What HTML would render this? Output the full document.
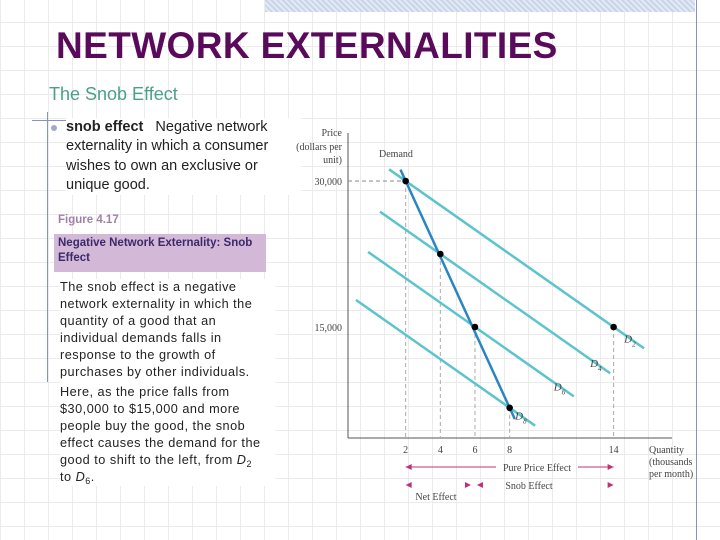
<!DOCTYPE html>
<html><head><meta charset="utf-8"><style>
body{margin:0;width:720px;height:540px;overflow:hidden;position:relative;font-family:"Liberation Sans",sans-serif;
background-color:#fff;
background-image:linear-gradient(to right,#ebebeb 1px,transparent 1px),linear-gradient(to bottom,#ebebeb 1px,transparent 1px);
background-size:24px 24px;background-position:0 -2px;}
.abs{position:absolute}
sub{font-size:9px;line-height:0;vertical-align:-3px}
</style></head><body>
<div class="abs" style="left:265px;top:0;width:430px;height:12px;background:repeating-linear-gradient(45deg,#c8d4e8 0 2px,#e4eaf4 2px 4px)"></div>
<div class="abs" style="left:696px;top:0;width:1px;height:540px;background:#8a90c0"></div>
<div class="abs" style="left:56px;top:25px;font-size:37px;font-weight:bold;color:#5a0a5a;letter-spacing:0.4px">NETWORK EXTERNALITIES</div>
<div class="abs" style="left:49px;top:84px;font-size:18px;color:#4aa088">The Snob Effect</div>
<div class="abs" style="left:32px;top:120px;width:122px;height:1px;background:#8a90c0"></div>
<div class="abs" style="left:47px;top:112px;width:1px;height:270px;background:#8a90c0"></div>
<div class="abs" style="left:51px;top:125px;width:6px;height:6px;border-radius:50%;background:#a0a8d0"></div>
<div class="abs" style="left:66px;top:118px;width:235px;font-size:14.5px;line-height:19.3px;color:#222;background:#fff"><b>snob effect</b>&nbsp;&nbsp; Negative network externality in which a consumer wishes to own an exclusive or unique good.</div>
<div class="abs" style="left:58px;top:214px;font-size:11.5px;font-weight:bold;color:#a080a8">Figure 4.17</div>
<div class="abs" style="left:54px;top:234px;width:204px;height:34px;padding:2px 4px;font-size:11.5px;font-weight:bold;line-height:15px;color:#3a2a6a;background:#d4b8d8">Negative Network Externality: Snob Effect</div>
<div class="abs" style="left:60px;top:279px;width:215px;font-size:12.7px;letter-spacing:0.5px;line-height:17px;color:#222;background:#fff;white-space:nowrap">The snob effect is a negative<br>network externality in which the<br>quantity of a good that an<br>individual demands falls in<br>response to the growth of<br>purchases by other individuals.<div style="height:3px"></div>Here, as the price falls from<br>$30,000 to $15,000 and more<br>people buy the good, the snob<br>effect causes the demand for the<br>good to shift to the left, from <i>D</i><sub>2</sub><br>to <i>D</i><sub>6</sub>.</div>
<svg class="abs" style="left:0;top:0" width="720" height="540" id="chart"></svg>
<script>
const tickQ=[2,4,6,8,14];
const priceTicks=[30000,15000];
const priceLabels=["30,000","15,000"];
const curveNames=["D2","D4","D6","D8"];
const curveQ=[2,4,6,8];
const curveP=[30000,22500,15000,6700];
const curveStartQ=[1.04,0.52,-0.17,-0.87];
const curveEndQ=[15.76,13.8,11.7,9.47];
const shiftSlope=-1250;
const extraQ=14, extraP=15000;
const ns="http://www.w3.org/2000/svg",svg=document.getElementById('chart');
const X=q=>371+q*17.33, Y=p=>473-p*146/15000;
function mk(t,a,txt){const e=document.createElementNS(ns,t);for(const k in a)e.setAttribute(k,a[k]);if(txt!=null)e.textContent=txt;svg.appendChild(e);return e;}
const serif='font-family:"Liberation Serif",serif;font-size:10px;fill:#444';
let e;
e=mk('line',{x1:348,y1:133,x2:348,y2:438,stroke:'#555','stroke-width':1});

e=mk('line',{x1:348,y1:438,x2:672,y2:438,stroke:'#555','stroke-width':1});

[["Price",136],["(dollars per",150],["unit)",163]].forEach(([t,y])=>{e=mk('text',{x:342,y:y,'text-anchor':'end',style:serif},t);});
[["Quantity",453],["(thousands",465],["per month)",477]].forEach(([t,y])=>{e=mk('text',{x:649,y:y,style:serif},t);});
priceTicks.forEach((p,i)=>{e=mk('text',{x:342,y:Y(p)+4,'text-anchor':'end',style:serif},priceLabels[i]);});
tickQ.forEach(q=>{e=mk('text',{x:X(q),y:453,'text-anchor':'middle',style:serif},String(q));});
e=mk('line',{x1:348,y1:Y(curveP[0]),x2:X(curveQ[0]),y2:Y(curveP[0]),stroke:'#888','stroke-dasharray':'4,3'});

curveQ.concat([extraQ]).forEach((q,i)=>{const p=i<4?curveP[i]:extraP;e=mk('line',{x1:X(q),y1:Y(p),x2:X(q),y2:438,stroke:'#aaa','stroke-dasharray':'4,3'});});
curveNames.forEach((n,i)=>{const f=q=>curveP[i]+shiftSlope*(q-curveQ[i]);
e=mk('line',{x1:X(curveStartQ[i]),y1:Y(f(curveStartQ[i])),x2:X(curveEndQ[i]),y2:Y(f(curveEndQ[i])),stroke:'#5cc4cc','stroke-width':2.5});

e=mk('text',{x:X(curveEndQ[i])-20,y:Y(f(curveEndQ[i]))-6,style:'font-family:"Liberation Serif",serif;font-style:italic;font-size:11px;fill:#444'},'D');

const s=document.createElementNS(ns,'tspan');s.setAttribute('baseline-shift','sub');s.setAttribute('font-size','7');s.textContent=n.slice(1);e.appendChild(s);});
const q0=curveQ[0],q1=curveQ[3],p0=curveP[0],p1=curveP[3],sl=(p1-p0)/(q1-q0);
const dq0=q0-0.3,dq1=q1+0.3;
e=mk('line',{x1:X(dq0),y1:Y(p0+sl*(dq0-q0)),x2:X(dq1),y2:Y(p0+sl*(dq1-q0)),stroke:'#2a86c0','stroke-width':2.5});

e=mk('text',{x:379,y:157,style:serif},'Demand');
curveQ.forEach((q,i)=>{e=mk('circle',{cx:X(q),cy:Y(curveP[i]),r:3.3,fill:'#000'});});
e=mk('circle',{cx:X(extraQ),cy:Y(extraP),r:3.3,fill:'#000'});
const mag='#c0307a';
function arr(x,y,dir){const d=dir>0?`M${x},${y} l-6,-3 l0,6z`:`M${x},${y} l6,-3 l0,6z`;e=mk('path',{d:d,fill:mag});}
e=mk('line',{x1:X(2),y1:467,x2:496,y2:467,stroke:mag});
e=mk('line',{x1:578,y1:467,x2:X(14),y2:467,stroke:mag});
arr(X(2),467,-1);arr(X(14),467,1);
e=mk('text',{x:537,y:471,'text-anchor':'middle',style:serif},'Pure Price Effect');
arr(X(2),485,-1);arr(X(6)-4,485,1);arr(X(6)+2,485,-1);arr(X(14),485,1);
e=mk('text',{x:529,y:489,'text-anchor':'middle',style:serif},'Snob Effect');
e=mk('text',{x:436,y:500,'text-anchor':'middle',style:serif},'Net Effect');
</script>
</body></html>
